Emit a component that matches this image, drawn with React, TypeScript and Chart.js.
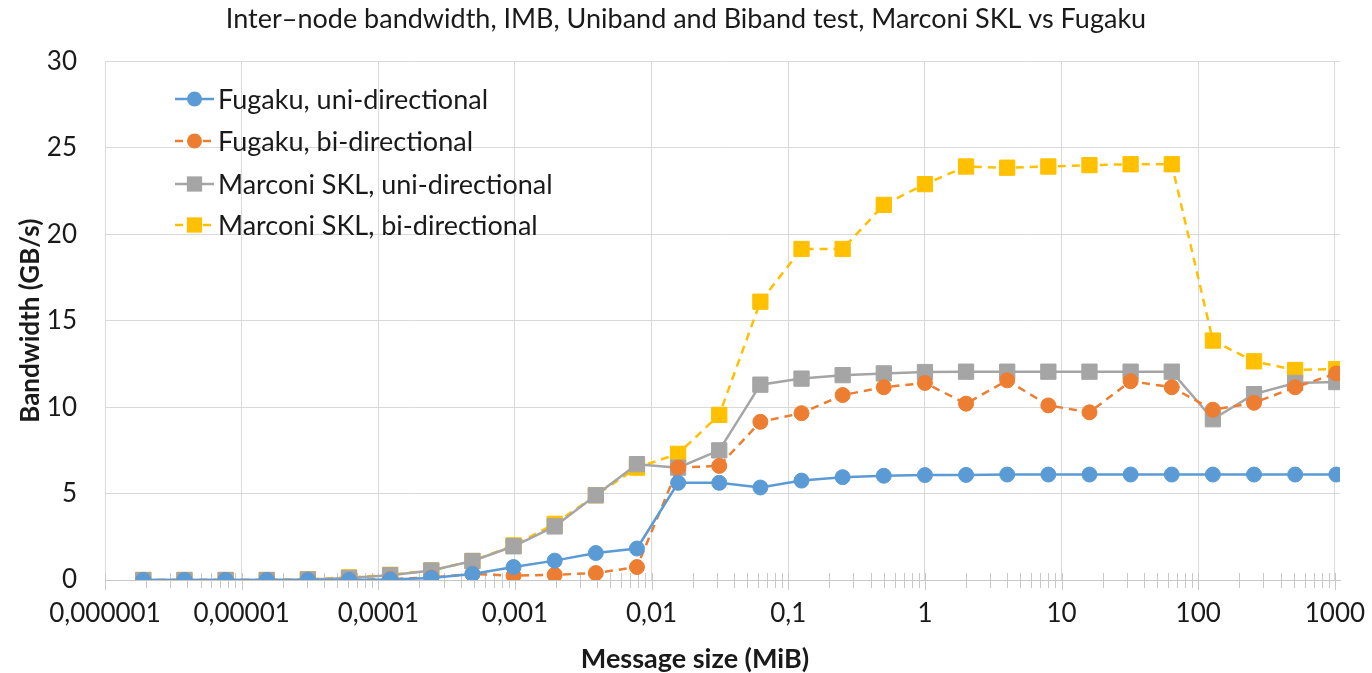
import React, { useEffect, useRef } from "react";
import { Chart, registerables } from "chart.js";

Chart.register(...registerables);

const messageSizes = [
  1.9073486328125e-6, 3.814697265625e-6, 7.62939453125e-6, 1.52587890625e-5,
  3.0517578125e-5, 6.103515625e-5, 0.0001220703125, 0.000244140625,
  0.00048828125, 0.0009765625, 0.001953125, 0.00390625, 0.0078125, 0.015625,
  0.03125, 0.0625, 0.125, 0.25, 0.5, 1, 2, 4, 8, 16, 32, 64, 128, 256, 512, 1024,
];

const fugakuUni = [
  0, 0, 0, 0, 0, 0, 0.03, 0.12, 0.35, 0.75, 1.12, 1.56, 1.82, 5.62, 5.62, 5.35,
  5.75, 5.95, 6.03, 6.07, 6.08, 6.1, 6.1, 6.1, 6.1, 6.1, 6.1, 6.1, 6.1, 6.1,
];
const fugakuBi = [
  0, 0, 0, 0, 0, 0, 0.05, 0.15, 0.35, 0.25, 0.3, 0.4, 0.75, 6.5, 6.6, 9.15,
  9.65, 10.7, 11.15, 11.4, 10.2, 11.55, 10.1, 9.7, 11.5, 11.15, 9.85, 10.25,
  11.15, 11.95,
];
const marconiUni = [
  0, 0, 0, 0, 0.03, 0.12, 0.28, 0.55, 1.1, 1.95, 3.1, 4.9, 6.7, 6.5, 7.5, 11.3,
  11.65, 11.85, 11.95, 12.03, 12.05, 12.05, 12.05, 12.05, 12.05, 12.05, 9.3,
  10.75, 11.4, 11.45,
];
const marconiBi = [
  0, 0, 0, 0, 0.05, 0.15, 0.3, 0.55, 1.1, 2.0, 3.25, 4.9, 6.5, 7.3, 9.55, 16.1,
  19.15, 19.15, 21.7, 22.9, 23.92, 23.85, 23.92, 24.0, 24.05, 24.05, 13.85,
  12.65, 12.15, 12.2,
];

const seriesLabels = [
  "Fugaku, uni-directional",
  "Fugaku, bi-directional",
  "Marconi SKL, uni-directional",
  "Marconi SKL, bi-directional",
];

const xDecades = [1e-6, 1e-5, 1e-4, 1e-3, 1e-2, 1e-1, 1, 10, 100, 1000];
const xTickLabels = [
  "0,000001", "0,00001", "0,0001", "0,001", "0,01", "0,1", "1", "10", "100", "1000",
];
const xMinorSteps = [2, 3, 4, 5, 6, 7, 8, 9];
const yTicks = [0, 5, 10, 15, 20, 25, 30];

const TITLE = "Inter\u2013node bandwidth, IMB, Uniband and Biband test, Marconi SKL vs Fugaku";
const X_TITLE = "Message size (MiB)";
const Y_TITLE = "Bandwidth (GB/s)";

const FONT = "Lato, 'Open Sans', sans-serif";
const TEXT = "#1a1a1a";
const GRID = "#d9d9d9";
const AXIS = "#c8c8c8";

const colors = ["#5B9BD5", "#ED7D31", "#A5A5A5", "#FFC000"];
const dashes = [[], [8, 6], [], [8, 6]];
const styles = ["circle", "circle", "rect", "rect"];
const radii = [7.5, 7.5, 10.8, 10.8];

const X_MIN = 1e-6;
const X_MAX = 1090;

function labelFor(v: number) {
  for (let i = 0; i < xDecades.length; i++) {
    if (Math.abs(v - xDecades[i]) / xDecades[i] < 1e-6) return xTickLabels[i];
  }
  return "";
}

const extrasPlugin = {
  id: "extras",
  beforeDatasetsDraw(chart: any) {
    const { ctx } = chart;
    const xs = chart.scales.x;
    const y0 = chart.chartArea.bottom;
    ctx.save();
    ctx.strokeStyle = AXIS;
    ctx.lineWidth = 1;
    for (const t of xs.ticks) {
      const px = Math.round(xs.getPixelForValue(t.value)) + 0.5;
      ctx.beginPath();
      ctx.moveTo(px, y0 - 7);
      ctx.lineTo(px, y0 + (t.major ? 10 : 8));
      ctx.stroke();
    }
    ctx.restore();
  },
  afterDatasetsDraw(chart: any) {
    const { ctx } = chart;
    ctx.save();
    const rowsY = [99, 141, 184, 225];
    const lx0 = 175;
    const lx1 = 214;
    const mx = 194.5;
    chart.data.datasets.forEach((ds: any, i: number) => {
      const y = rowsY[i];
      ctx.strokeStyle = ds.borderColor;
      ctx.lineWidth = ds.borderWidth;
      ctx.setLineDash(ds.borderDash || []);
      ctx.beginPath();
      ctx.moveTo(lx0, y);
      ctx.lineTo(lx1, y);
      ctx.stroke();
      ctx.setLineDash([]);
      ctx.fillStyle = ds.pointBackgroundColor;
      ctx.beginPath();
      if (ds.pointStyle === "circle") {
        ctx.arc(mx, y, ds.pointRadius, 0, Math.PI * 2);
      } else {
        const s = Math.SQRT1_2 * ds.pointRadius;
        ctx.rect(mx - s, y - s, 2 * s, 2 * s);
      }
      ctx.fill();
      ctx.fillStyle = TEXT;
      ctx.font = `27px ${FONT}`;
      ctx.textAlign = "left";
      ctx.textBaseline = "middle";
      ctx.fillText(ds.label, 218, y + 1);
    });
    ctx.fillStyle = TEXT;
    ctx.font = `bold 27px ${FONT}`;
    ctx.textAlign = "center";
    ctx.textBaseline = "middle";
    ctx.fillText(X_TITLE, 695, 659);
    ctx.restore();
  },
};

export default function App() {
  const ref = useRef<HTMLCanvasElement | null>(null);

  useEffect(() => {
    if (!ref.current) return;
    const data = [fugakuUni, fugakuBi, marconiUni, marconiBi];
    const chart = new Chart(ref.current, {
      type: "line",
      data: {
        datasets: data.map((vals, i) => ({
          label: seriesLabels[i],
          data: vals.map((v, j) => ({ x: messageSizes[j], y: v })),
          borderColor: colors[i],
          backgroundColor: colors[i],
          pointBackgroundColor: colors[i],
          pointBorderColor: colors[i],
          pointBorderWidth: 1,
          borderWidth: 2.5,
          borderDash: dashes[i],
          pointStyle: styles[i],
          pointRadius: radii[i],
          pointHoverRadius: radii[i],
          tension: 0,
          fill: false,
        })),
      },
      options: {
        responsive: false,
        animation: false,
        devicePixelRatio: 1,
        layout: { padding: { left: 0, right: 0, top: 0, bottom: 0 } },
        plugins: {
          legend: { display: false },
          tooltip: { enabled: false },
          title: {
            display: true,
            text: TITLE,
            color: TEXT,
            font: { family: FONT, size: 27, weight: "normal" },
            padding: { top: 3, bottom: 26 },
          },
        },
        scales: {
          x: {
            type: "logarithmic",
            min: X_MIN,
            max: X_MAX,
            bounds: "data",
            afterBuildTicks: (scale: any) => {
              const ticks: any[] = [];
              xDecades.forEach((d) => {
                ticks.push({ value: d, major: true });
                xMinorSteps.forEach((m) => {
                  const v = d * m;
                  if (v < X_MAX) ticks.push({ value: v, major: false });
                });
              });
              scale.ticks = ticks;
            },
            afterFit: (scale: any) => {
              scale.height = 93;
              scale.paddingLeft = 0;
              scale.paddingRight = 32;
            },
            grid: {
              color: (c: any) => (c.tick && c.tick.major ? GRID : "rgba(0,0,0,0)"),
              drawTicks: false,
            },
            border: { display: true, color: AXIS },
            ticks: {
              autoSkip: false,
              maxRotation: 0,
              padding: 18,
              color: TEXT,
              font: { family: FONT, size: 26 },
              callback: (value: any) => labelFor(Number(value)),
            },
          },
          y: {
            type: "linear",
            min: 0,
            max: 30,
            afterBuildTicks: (scale: any) => {
              scale.ticks = yTicks.map((v) => ({ value: v }));
            },
            afterFit: (scale: any) => {
              scale.width = 105;
            },
            grid: { color: GRID, drawTicks: false },
            border: { display: false },
            ticks: {
              padding: 28,
              color: TEXT,
              font: { family: FONT, size: 26 },
            },
            title: {
              display: true,
              text: Y_TITLE,
              color: TEXT,
              font: { family: FONT, size: 26, weight: "bold" },
              padding: { top: 15, bottom: 0 },
            },
          },
        },
      },
      plugins: [extrasPlugin],
    });
    return () => chart.destroy();
  }, []);

  return (
    <div style={{ position: "fixed", left: 0, top: 0, width: 1372, height: 673, background: "#fff" }}>
      <canvas ref={ref} width={1372} height={673} style={{ display: "block" }} />
    </div>
  );
}
